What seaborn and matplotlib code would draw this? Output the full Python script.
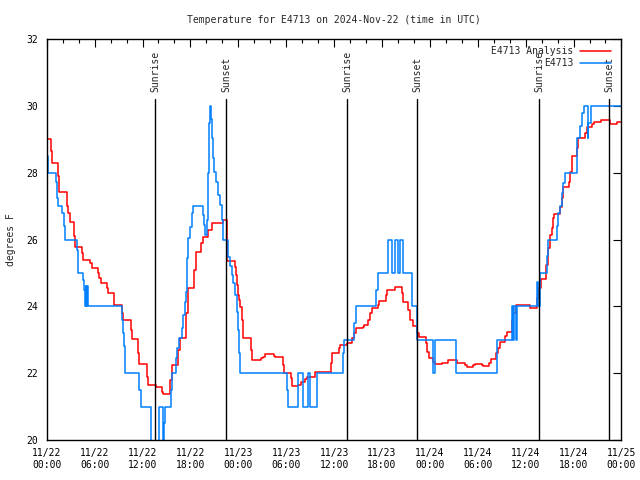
import matplotlib

matplotlib.use("Agg")

import matplotlib.dates as mdates
import matplotlib.pyplot as plt
import pandas as pd
import seaborn as sns

START = pd.Timestamp("2024-11-22 00:00")

# analysis series (hours since start, degrees F)
analysis_hours = [
    0.0, 0.54, 0.62, 1.46, 1.58, 2.58, 2.7, 2.88, 3.46, 3.55, 4.47, 4.59, 5.47, 5.64,
    6.47, 6.6, 6.76, 7.56, 7.72, 8.48, 9.48, 9.6, 10.56, 10.65, 11.48, 11.6, 12.53, 12.65,
    13.7, 14.49, 14.6, 15.5, 15.7, 16.4, 16.7, 17.46, 17.67, 18.5, 18.67, 19.34, 19.63,
    20.25, 20.67, 22.05, 22.55, 23.55, 23.7, 23.81, 23.93, 24.1, 24.22, 24.43, 24.56,
    25.56, 25.69, 26.82, 27.1, 27.36, 28.52, 28.6, 29.57, 29.78, 30.57, 30.7, 31.53, 31.8,
    32.3, 32.6, 33.62, 35.59, 35.7, 36.67, 36.8, 37.6, 38.3, 38.5, 38.76, 39.6, 39.75,
    40.3, 40.5, 40.73, 41.48, 41.68, 42.52, 42.68, 43.65, 44.49, 44.69, 45.31, 45.53,
    45.94, 46.37, 46.7, 47.53, 47.62, 47.95, 48.45, 48.66, 49.5, 50.33, 51.38, 52.42,
    52.6, 53.46, 53.6, 54.5, 54.66, 55.46, 55.64, 56.3, 56.5, 56.8, 57.43, 57.64, 58.27,
    58.45, 58.77, 60.56, 61.48, 61.73, 61.9, 62.57, 62.74, 62.99, 63.1, 63.28, 63.4,
    63.57, 64.32, 64.5, 64.74, 65.37, 65.55, 65.79, 66.42, 66.5, 66.62, 67.46, 67.65,
    68.3, 68.59, 69.43, 70.6, 71.5, 72.0,
]
analysis_temp = [
    29.0, 28.64, 28.28, 27.9, 27.43, 27.0, 26.8, 26.52, 26.1, 25.79, 25.6, 25.39, 25.3, 25.16,
    25.0, 24.85, 24.71, 24.55, 24.39, 24.04, 23.8, 23.59, 23.3, 23.01, 22.6, 22.27, 21.9, 21.65,
    21.58, 21.45, 21.38, 21.8, 22.25, 22.7, 23.06, 23.8, 24.56, 25.1, 25.64, 25.9, 26.09,
    26.3, 26.5, 26.58, 25.36, 25.19, 24.94, 24.64, 24.34, 24.19, 23.99, 23.59, 23.04,
    22.7, 22.39, 22.45, 22.5, 22.57, 22.53, 22.5, 22.25, 22.02, 21.85, 21.63, 21.65, 21.75,
    21.82, 21.9, 22.03, 22.3, 22.6, 22.75, 22.84, 22.89, 23.04, 23.19, 23.34, 23.39, 23.44,
    23.59, 23.79, 23.94, 24.05, 24.17, 24.34, 24.49, 24.57, 24.4, 24.14, 23.9, 23.59,
    23.4, 23.2, 23.09, 22.9, 22.64, 22.45, 22.35, 22.27, 22.32, 22.4, 22.32, 22.24,
    22.18, 22.25, 22.27, 22.24, 22.22, 22.3, 22.43, 22.6, 22.75, 22.94, 23.1, 23.24, 23.6,
    23.8, 24.04, 23.96, 24.24, 24.55, 24.82, 25.24, 25.74, 25.99, 26.14, 26.34, 26.64,
    26.76, 26.99, 27.24, 27.59, 27.73, 28.03, 28.51, 28.73, 28.9, 29.03, 29.2, 29.38,
    29.45, 29.51, 29.58, 29.45, 29.51, 29.51,
]

# station observations
obs_hours = [
    0.0, 0.1, 1.12, 1.25, 1.38, 1.96, 2.17, 2.29, 3.76, 3.88, 3.96, 4.59, 4.7, 4.8, 4.88,
    4.95, 5.05, 5.12, 9.4, 9.52, 9.65, 9.8, 11.57, 11.82, 13.07, 14.1, 14.53, 14.65, 14.8,
    15.53, 15.7, 16.2, 16.37, 16.62, 16.91, 17.12, 17.33, 17.45, 17.54, 17.75, 17.96,
    18.17, 18.37, 19.55, 19.72, 19.88, 20.1, 20.2, 20.3, 20.4, 20.6, 20.7, 20.85, 20.96,
    21.2, 21.5, 21.7, 21.93, 22.13, 22.76, 23.0, 23.18, 23.39, 23.6, 23.81, 24.02, 24.14,
    24.22, 30.07, 30.28, 31.53, 32.16, 32.78, 32.95, 33.83, 37.17, 37.26, 38.5, 38.76,
    41.27, 41.56, 42.81, 43.23, 43.65, 44.06, 44.27, 44.69, 45.74, 46.37, 48.37, 48.66,
    51.29, 56.39, 58.27, 58.45, 58.6, 58.75, 58.9, 61.48, 61.6, 61.82, 62.66, 62.8, 62.86,
    63.91, 64.1, 64.32, 64.5, 64.7, 64.87, 66.42, 66.83, 67.0, 67.37, 67.75, 67.87, 68.17,
    72.0,
]
obs_temp = [
    28.5, 28.0, 27.73, 27.24, 27.0, 26.8, 26.4, 26.0, 25.7, 25.5, 25.0, 24.8, 24.5, 24.0, 24.6,
    24.0, 24.6, 24.0, 23.6, 23.2, 22.8, 22.0, 21.5, 21.0, 19.5, 21.0, 19.8, 20.5, 21.0,
    21.5, 22.0, 22.45, 22.75, 23.06, 23.34, 23.74, 24.14, 24.44, 25.44, 26.04, 26.39,
    26.79, 27.0, 26.75, 26.45, 26.14, 26.6, 28.0, 29.5, 30.0, 29.6, 29.03, 28.43, 28.03,
    27.73, 27.34, 27.04, 26.59, 26.0, 25.49, 25.21, 24.94, 24.69, 24.34, 23.84, 23.29, 22.6,
    22.0, 21.5, 21.0, 22.0, 21.0, 22.0, 21.0, 22.0, 22.6, 23.0, 23.5, 24.0,
    24.5, 25.0, 26.0, 25.0, 26.0, 25.0, 26.0, 25.0, 24.0, 23.0, 22.0, 23.0,
    22.0, 23.0, 24.0, 23.0, 24.0, 23.0, 24.0, 24.74, 24.0, 25.0, 25.5, 25.9, 26.0,
    26.4, 26.8, 27.0, 27.4, 27.7, 28.0, 29.03, 29.4, 29.8, 30.0, 29.03, 29.5, 30.0,
    30.0,
]

sun_hours = [13.61, 22.5, 37.67, 46.44, 61.73, 70.5]
sun_labels = ["Sunrise", "Sunset", "Sunrise", "Sunset", "Sunrise", "Sunset"]

sns.set_theme(style="white")
plt.rcParams["font.family"] = ["DejaVu Sans Mono", "DejaVu Sans"]
plt.rcParams["font.size"] = 7

analysis_df = pd.DataFrame({
    "time": START + pd.to_timedelta(analysis_hours, unit="h"),
    "temp": analysis_temp,
})
obs_df = pd.DataFrame({
    "time": START + pd.to_timedelta(obs_hours, unit="h"),
    "temp": obs_temp,
})

fig = plt.figure(figsize=(6.4, 4.8), dpi=100)
ax = fig.add_axes([0.073, 0.0833, 0.898, 0.835])

sns.lineplot(data=analysis_df, x="time", y="temp", ax=ax, color="#ff0000",
             drawstyle="steps-post", linewidth=1.1, label="E4713 Analysis")
sns.lineplot(data=obs_df, x="time", y="temp", ax=ax, color="#0080ff",
             drawstyle="steps-post", linewidth=1.1, label="E4713")

for h, lab in zip(sun_hours, sun_labels):
    t = START + pd.Timedelta(hours=h)
    ax.plot([t, t], [20, 30.2], color="black", linewidth=1.0, zorder=5)
    ax.text(t, 30.42, lab, rotation=90, ha="center", va="bottom", fontsize=7)

ax.set_xlim(START, START + pd.Timedelta(hours=72))
ax.set_ylim(20, 32)
ax.set_yticks(range(20, 33, 2))
ax.xaxis.set_major_locator(mdates.HourLocator(byhour=range(0, 24, 6)))
ax.xaxis.set_minor_locator(mdates.HourLocator(byhour=range(0, 24, 2)))
ax.xaxis.set_major_formatter(mdates.DateFormatter("%m/%d\n%H:%M"))

ax.tick_params(which="both", direction="in", top=True, right=True, colors="black",
               labelsize=7)
ax.tick_params(which="major", length=6, width=0.8, pad=6)
ax.tick_params(which="minor", length=3, width=0.8)
for sp in ax.spines.values():
    sp.set_color("black")
    sp.set_linewidth(1.0)

ax.set_xlabel("")
ax.set_ylabel("degrees F", fontsize=7, labelpad=8)
ax.set_title("Temperature for E4713 on 2024-Nov-22 (time in UTC)", fontsize=7, pad=12)

ax.legend(loc="upper right", frameon=False, markerfirst=False, handlelength=3.2,
          fontsize=7, borderaxespad=0.3, labelspacing=0.25, handletextpad=0.6,
          bbox_to_anchor=(0.993, 1.0))

fig.savefig("out.png", dpi=100)
